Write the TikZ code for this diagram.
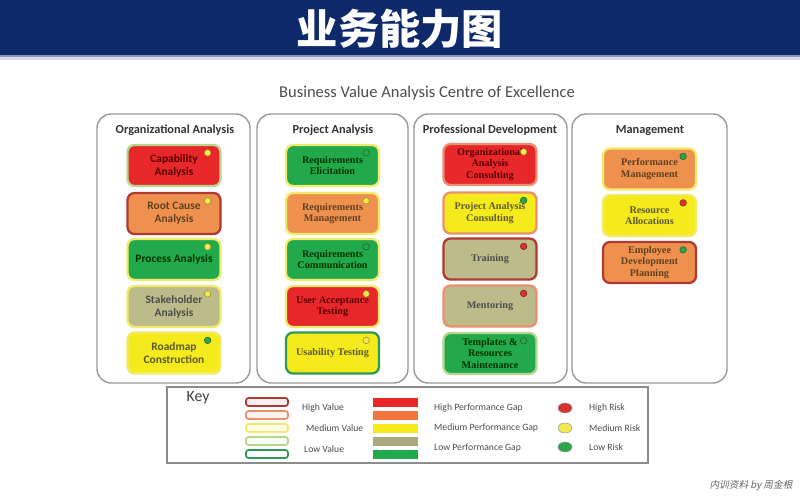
\documentclass[tikz,border=0pt]{standalone}
\usepackage{fontspec}
\setmainfont{Carlito}
\newfontfamily\cjk{Noto Sans CJK SC}
\newfontfamily\cjkslant{Noto Sans CJK SC}[FakeSlant=0.2]
\newfontfamily\capserif{Liberation Serif}
\usetikzlibrary{calc,shapes.geometric}

\definecolor{navy}{HTML}{0E2A6B}
\definecolor{navyShade}{HTML}{8A98B8}
% performance gap fills
\definecolor{gapHigh}{HTML}{E8272B}
\definecolor{gapMedHigh}{HTML}{EF914E}
\definecolor{gapMed}{HTML}{F4EA1C}
\definecolor{gapLowMed}{HTML}{BDBB8A}
\definecolor{gapLow}{HTML}{22A94B}
% value borders
\definecolor{valHigh}{HTML}{B03A32}
\definecolor{valMedHigh}{HTML}{E9906E}
\definecolor{valMed}{HTML}{F1EA6A}
\definecolor{valLowMed}{HTML}{B6D68E}
\definecolor{valLow}{HTML}{2E9A55}
% risk
\definecolor{riskHigh}{HTML}{D8312F}
\definecolor{riskMed}{HTML}{F3E94C}
\definecolor{riskLow}{HTML}{2AA64A}

\begin{document}
\begin{tikzpicture}[x=0.02cm,y=-0.02cm]
	\tikzset{
		panel/.style={draw=black!40,line width=0.8pt,rounded corners=8pt,fill=white},
		colhead/.style={text=black!80,font=\bfseries\fontsize{7}{8}\selectfont},
		capbox/.style={rounded corners=4pt,line width=1.3pt,minimum width=1.86cm,minimum height=0.82cm,
			align=center,inner sep=1pt,font=\capserif\bfseries\fontsize{5.8}{6.4}\selectfont},
		sansbox/.style={font=\bfseries\fontsize{6.5}{7.4}\selectfont},
		gH/.style={fill=gapHigh,text=red!35!black},
		gMH/.style={fill=gapMedHigh,text=brown!50!black},
		gM/.style={fill=gapMed,text=olive!55!black},
		gLM/.style={fill=gapLowMed,text=black!70},
		gL/.style={fill=gapLow,text=green!20!black},
		valsw/.style={line width=1pt,rounded corners=1.5pt,minimum width=0.84cm,minimum height=0.16cm,inner sep=0pt},
		gapsw/.style={minimum width=0.9cm,minimum height=0.18cm,inner sep=0pt},
		riskdot/.style={ellipse,draw=black!40,line width=0.3pt,minimum width=0.28cm,minimum height=0.2cm,inner sep=0pt},
		keytext/.style={anchor=west,text=black!70,font=\fontsize{5.5}{6}\selectfont},
	}
	\useasboundingbox (0,0) rectangle (800,500);
	
	% header band
	\fill[navy] (0,0) rectangle (800,55);
	\fill[navyShade] (0,55) rectangle (800,57.5);
	\fill[navyShade!35] (0,57.5) rectangle (800,60);
	\node[text=white,font=\cjk\bfseries\fontsize{23.5}{25}\selectfont] (title) at (400,29) {业务能力图};
	\node[text=black!70,font=\fontsize{9.4}{10}\selectfont] (subtitle) at (427,93) {Business Value Analysis Centre of Excellence};
	
	% column panels
	\draw[panel] (97,114) rectangle (250,383);
	\draw[panel] (257,114) rectangle (408,383);
	\draw[panel] (414,114) rectangle (567,383);
	\draw[panel] (572,114) rectangle (727,383);
	
	\node[colhead] (hOrg) at (175,130) {Organizational Analysis};
	\node[colhead] (hProj) at (333,130) {Project Analysis};
	\node[colhead] (hProf) at (490,130) {Professional Development};
	\node[colhead] (hMgmt) at (650,131) {Management};
	
	% Organizational Analysis
	\node[capbox,sansbox,gH,draw=valLowMed] (oa1) at (174,165.5) {Capability\\Analysis};
	\node[capbox,sansbox,gMH,draw=valHigh] (oa2) at (174,213.5) {Root Cause\\Analysis};
	\node[capbox,sansbox,gL,draw=valMed] (oa3) at (174,259.5) {Process Analysis};
	\node[capbox,sansbox,gLM,draw=valMed] (oa4) at (174,306.5) {Stakeholder\\Analysis};
	\node[capbox,sansbox,gM,draw=valMed] (oa5) at (174,353) {Roadmap\\Construction};
	
	% Project Analysis
	\node[capbox,gL,draw=valMed] (pa1) at (332.5,165.5) {Requirements\\Elicitation};
	\node[capbox,gMH,draw=valMed] (pa2) at (332.5,213.5) {Requirements\\Management};
	\node[capbox,gL,draw=valMed] (pa3) at (332.5,259.5) {Requirements\\Communication};
	\node[capbox,gH,draw=valMed] (pa4) at (332.5,306.5) {User Acceptance\\Testing};
	\node[capbox,gM,draw=valLow] (pa5) at (332.5,353) {Usability Testing};
	
	% Professional Development
	\node[capbox,gH,draw=valMedHigh] (pd1) at (490,164.5) {Organizational\\Analysis\\Consulting};
	\node[capbox,gM,draw=valMedHigh] (pd2) at (490,213) {Project Analysis\\Consulting};
	\node[capbox,gLM,draw=valHigh] (pd3) at (490,259) {Training};
	\node[capbox,gLM,draw=valMedHigh] (pd4) at (490,306) {Mentoring};
	\node[capbox,gL,draw=valLowMed] (pd5) at (490,353.5) {Templates \&\\Resources\\Maintenance};
	
	% Management
	\node[capbox,gMH,draw=valMed] (mg1) at (649.5,169) {Performance\\Management};
	\node[capbox,gM,draw=valMed] (mg2) at (649.5,215.5) {Resource\\Allocations};
	\node[capbox,gMH,draw=valHigh] (mg3) at (649.5,262.5) {Employee\\Development\\Planning};
	
	% risk markers
	\foreach \b/\c in {oa1/riskMed,oa2/riskMed,oa3/riskMed,oa4/riskMed,oa5/riskLow,
		pa1/riskLow,pa2/riskMed,pa3/riskLow,pa4/riskMed,pa5/riskMed,
		pd1/riskMed,pd2/riskLow,pd3/riskHigh,pd4/riskHigh,pd5/riskLow,
		mg1/riskLow,mg2/riskHigh,mg3/riskLow}
	\filldraw[fill=\c,draw=\c!60!black,line width=0.3pt] ($(\b.north east)+(-14,9)$) circle (3.3);
	
	% key
	\draw[black!45,line width=0.6pt] (167,387) rectangle (648,463);
	\node[text=black!75,font=\fontsize{9}{10}\selectfont] (keyTitle) at (198,398) {Key};
	
	\node[valsw,draw=valHigh,fill=valHigh!8] (vH) at (267,402) {};
	\node[valsw,draw=valMedHigh,fill=valMedHigh!12] (vMH) at (267,415) {};
	\node[valsw,draw=valMed,fill=valMed!15] (vM) at (267,428) {};
	\node[valsw,draw=valLowMed,fill=valLowMed!10] (vLM) at (267,441) {};
	\node[valsw,draw=valLow,fill=white] (vL) at (267,454) {};
	\node[keytext] (vHt) at (296,408) {High Value};
	\node[keytext] (vMt) at (300,428) {Medium Value};
	\node[keytext] (vLt) at (298,449) {Low Value};
	
	\node[gapsw,fill=gapHigh] (gH) at (395.5,402) {};
	\node[gapsw,fill=gapMedHigh!80!red] (gMH) at (395.5,415) {};
	\node[gapsw,fill=gapMed] (gM) at (395.5,428) {};
	\node[gapsw,fill=gapLowMed!90!black] (gLM) at (395.5,441) {};
	\node[gapsw,fill=gapLow] (gL) at (395.5,454) {};
	\node[keytext] (gHt) at (428,408) {High Performance Gap};
	\node[keytext] (gMt) at (428,428) {Medium Performance Gap};
	\node[keytext] (gLt) at (428,448) {Low Performance Gap};
	
	\node[riskdot,fill=riskHigh] (rH) at (565,408) {};
	\node[riskdot,fill=riskMed] (rM) at (565,428) {};
	\node[riskdot,fill=riskLow] (rL) at (565,447) {};
	\node[keytext] (rHt) at (583,408) {High Risk};
	\node[keytext] (rMt) at (583,428) {Medium Risk};
	\node[keytext] (rLt) at (583,447) {Low Risk};
	
	\node[text=black!60,font=\cjkslant\fontsize{5.5}{6}\selectfont] (credit) at (751,486) {内训资料 by 周金根};
\end{tikzpicture}
\end{document}
